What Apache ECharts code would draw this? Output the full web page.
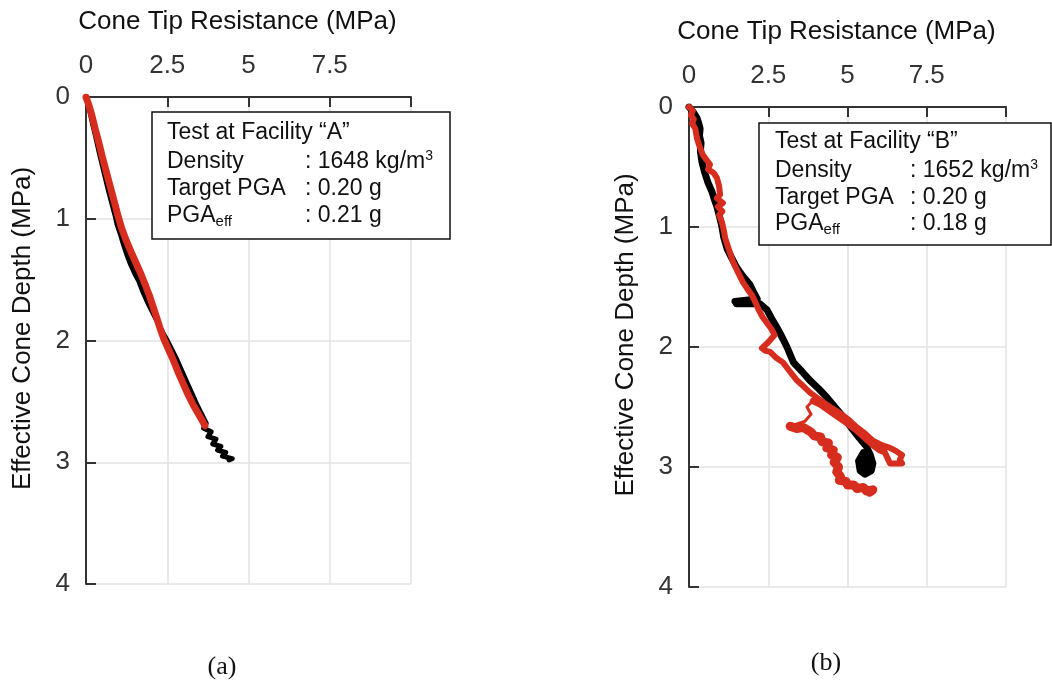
<!DOCTYPE html>
<html>
<head>
<meta charset="utf-8">
<script src="https://cdn.jsdelivr.net/npm/echarts@6/dist/echarts.min.js"></script>
<style>
html,body{margin:0;padding:0;background:#fff;}
#c{width:1052px;height:689px;}
</style>
</head>
<body>
<div id="c"></div>
<script>
// ---- data (q = cone tip resistance MPa, d = effective cone depth) ----
var xTicks = [0, 2.5, 5, 7.5];
var yTicks = [0, 1, 2, 3, 4];
var xTitle = 'Cone Tip Resistance (MPa)';
var yTitle = 'Effective Cone Depth (MPa)';

var aBlack = [[0,0],[0.05,0.05],[0.12,0.12],[0.2,0.22],[0.3,0.33],[0.4,0.45],[0.5,0.56],[0.6,0.67],[0.7,0.78],[0.8,0.88],[0.9,0.98],[0.95,1.04],[1.05,1.12],[1.15,1.21],[1.25,1.29],[1.38,1.38],[1.5,1.45],[1.62,1.51],[1.75,1.6],[1.9,1.69],[2.05,1.77],[2.2,1.85],[2.35,1.93],[2.5,2.0],[2.65,2.08],[2.8,2.16],[2.95,2.25],[3.1,2.34],[3.25,2.43],[3.4,2.52],[3.55,2.6],[3.7,2.68],[3.62,2.72],[3.85,2.75],[3.75,2.79],[4.0,2.81],[3.9,2.85],[4.15,2.87],[4.05,2.9],[4.3,2.92],[4.2,2.95],[4.5,2.97],[4.4,2.98]];
var aRed = [[0,0],[0.08,0.06],[0.18,0.15],[0.28,0.26],[0.4,0.38],[0.5,0.49],[0.62,0.61],[0.75,0.74],[0.87,0.86],[1.0,0.99],[1.1,1.08],[1.24,1.18],[1.4,1.28],[1.55,1.37],[1.7,1.46],[1.82,1.54],[1.95,1.63],[2.06,1.72],[2.16,1.8],[2.28,1.9],[2.4,1.99],[2.55,2.08],[2.7,2.17],[2.85,2.27],[3.0,2.36],[3.15,2.45],[3.3,2.53],[3.45,2.6],[3.58,2.66],[3.66,2.7]];

var bBlack = [[0,0],[0.13,0.04],[0.25,0.09],[0.3,0.13],[0.35,0.18],[0.33,0.24],[0.38,0.3],[0.36,0.37],[0.41,0.46],[0.5,0.55],[0.6,0.63],[0.73,0.71],[0.8,0.77],[0.88,0.83],[0.95,0.9],[1.04,1.0],[1.1,1.09],[1.2,1.18],[1.35,1.26],[1.51,1.34],[1.7,1.41],[1.92,1.48],[2.05,1.55],[2.15,1.6],[1.8,1.61],[1.45,1.62],[1.5,1.64],[1.9,1.64],[2.24,1.64],[2.46,1.69],[2.6,1.76],[2.78,1.84],[2.9,1.9],[3.09,2.0],[3.2,2.07],[3.3,2.13],[3.55,2.2],[3.82,2.28],[4.1,2.35],[4.35,2.42],[4.6,2.5],[4.86,2.58],[5.0,2.63],[5.17,2.69],[5.35,2.75],[5.6,2.83],[5.72,2.9],[5.8,2.97],[5.75,3.03],[5.55,3.06],[5.4,3.03],[5.35,2.95],[5.5,2.88],[5.65,2.95],[5.6,3.02],[5.5,2.97]];
var bRedUpper = [[0,0],[0.12,0.03],[0.06,0.07],[0.15,0.1],[0.1,0.14],[0.2,0.18],[0.25,0.26],[0.32,0.32],[0.44,0.4],[0.55,0.44],[0.66,0.48],[0.6,0.52],[0.78,0.55],[0.88,0.59],[0.95,0.66],[0.98,0.73],[0.88,0.76],[1.07,0.8],[0.91,0.83],[1.05,0.87],[0.95,0.9],[1.04,0.96],[1.1,1.03],[1.14,1.09],[1.25,1.18],[1.39,1.29],[1.55,1.38],[1.7,1.46],[1.85,1.52],[1.99,1.57],[2.1,1.63],[2.18,1.68],[2.32,1.75],[2.46,1.8],[2.6,1.85],[2.7,1.9],[2.5,1.96],[2.3,2.01],[2.4,2.03],[2.56,2.04],[2.75,2.09],[2.97,2.13],[3.2,2.21],[3.41,2.28],[3.62,2.33],[3.82,2.38],[4.13,2.44],[4.45,2.5],[4.76,2.55],[5.05,2.61],[5.3,2.67],[5.55,2.72],[5.8,2.78],[6.1,2.82],[6.34,2.84],[6.55,2.87],[6.72,2.9],[6.65,2.94],[6.72,2.97],[6.5,2.97],[6.34,2.97],[6.25,2.92],[6.18,2.88],[6.0,2.86],[5.8,2.82],[5.55,2.76],[5.3,2.7],[5.0,2.64],[4.67,2.58],[4.4,2.53],[4.13,2.48],[3.9,2.45]];
var bRedLink = [[3.9,2.45],[3.72,2.5],[3.85,2.56],[3.65,2.62],[3.19,2.66]];
var bRedLower = [[3.19,2.66],[3.4,2.68],[3.6,2.67],[3.85,2.71],[3.95,2.74],[4.15,2.75],[4.2,2.79],[4.4,2.8],[4.35,2.84],[4.55,2.86],[4.5,2.9],[4.68,2.92],[4.58,2.96],[4.72,3.0],[4.66,3.04],[4.78,3.08],[4.74,3.11],[4.95,3.12],[5.0,3.15],[5.2,3.15],[5.3,3.18],[5.5,3.17],[5.6,3.2],[5.8,3.19],[5.7,3.21]];

var boxA = ['Test at Facility \u201cA\u201d', 'Density', 'Target PGA', 'PGA', ': 1648 kg/m', ': 0.20 g', ': 0.21 g'];
var boxB = ['Test at Facility \u201cB\u201d', 'Density', 'Target PGA', 'PGA', ': 1652 kg/m', ': 0.20 g', ': 0.18 g'];

var RED = '#d62d1f';
var FONT = '"Liberation Sans", Arial, sans-serif';

function xAxisCfg(gi) {
  return {
    gridIndex: gi, type: 'value', position: 'top', min: 0, max: 10, interval: 2.5,
    name: xTitle, nameLocation: 'middle', nameGap: 62,
    nameTextStyle: {fontFamily: FONT, fontSize: 26, color: '#111', padding: [0, 22, 0, 0]},
    axisLine: {show: true, lineStyle: {color: '#333', width: 2}},
    axisTick: {show: true, inside: true, length: 10, lineStyle: {color: '#333', width: 2}},
    axisLabel: {fontFamily: FONT, fontSize: 26, color: '#333', margin: 18,
      formatter: function (v) { return xTicks.indexOf(v) >= 0 ? String(v) : ''; }},
    splitLine: {show: true, lineStyle: {color: '#e3e3e3', width: 1.5}}
  };
}
function yAxisCfg(gi) {
  return {
    gridIndex: gi, type: 'value', inverse: true, min: 0, max: 4, interval: 1,
    name: yTitle, nameLocation: 'middle', nameGap: 50,
    nameTextStyle: {fontFamily: FONT, fontSize: 26, color: '#111', padding: [0, 0, 0, 24]},
    axisLine: {show: true, lineStyle: {color: '#333', width: 2}},
    axisTick: {show: true, inside: true, length: 10, lineStyle: {color: '#333', width: 2}},
    axisLabel: {fontFamily: FONT, fontSize: 26, color: '#333', margin: 16,
      formatter: function (v) { return yTicks.indexOf(v) >= 0 ? String(v) : ''; }},
    splitLine: {show: true, lineStyle: {color: '#e3e3e3', width: 1.5}}
  };
}
function line(data, gi, color, w) {
  return {type: 'line', xAxisIndex: gi, yAxisIndex: gi, data: data, showSymbol: false,
    symbol: 'none', animation: false, silent: true, z: 3,
    lineStyle: {color: color, width: w, join: 'round', cap: 'round'}};
}
function legendBox(x, y, w, h, tx, vx, ys, t) {
  var Z = 1000;
  var ts = {fontFamily: FONT, fontSize: 23, fill: '#111', verticalAlign: 'middle'};
  var els = [{type: 'rect', z: Z, shape: {x: x, y: y, width: w, height: h},
    style: {fill: '#fff', stroke: '#111', lineWidth: 1.5}}];
  var rich = {
    m: {fontFamily: FONT, fontSize: 23, fill: '#111', lineHeight: 26, verticalAlign: 'middle'},
    sup: {fontFamily: FONT, fontSize: 14, fill: '#111', lineHeight: 26, verticalAlign: 'top', padding: [0, 0, 10, 0]},
    sub: {fontFamily: FONT, fontSize: 15, fill: '#111', lineHeight: 26, verticalAlign: 'bottom', padding: [10, 0, 0, 0]}
  };
  els.push({type: 'text', z: Z + 1, x: tx, y: ys[0], style: Object.assign({text: t[0]}, ts)});
  els.push({type: 'text', z: Z + 1, x: tx, y: ys[1], style: Object.assign({text: t[1]}, ts)});
  els.push({type: 'text', z: Z + 1, x: tx, y: ys[2], style: Object.assign({text: t[2]}, ts)});
  els.push({type: 'text', z: Z + 1, x: tx, y: ys[3], style: {text: '{m|' + t[3] + '}{sub|eff}', rich: rich, verticalAlign: 'middle'}});
  els.push({type: 'text', z: Z + 1, x: vx, y: ys[1], style: {text: '{m|' + t[4] + '}{sup|3}', rich: rich, verticalAlign: 'middle'}});
  els.push({type: 'text', z: Z + 1, x: vx, y: ys[2], style: Object.assign({text: t[5]}, ts)});
  els.push({type: 'text', z: Z + 1, x: vx, y: ys[3], style: Object.assign({text: t[6]}, ts)});
  return els;
}

var chart = echarts.init(document.getElementById('c'), null, {renderer: 'canvas'});
var graphics = [].concat(
  legendBox(152, 112, 298, 127, 167, 305, [133, 162, 189, 216], boxA),
  legendBox(759, 123, 292, 122, 775, 910, [142, 171, 198, 224], boxB),
  [
    {type: 'text', x: 222, y: 667, style: {text: '(a)', fontFamily: '"Liberation Serif", "Times New Roman", serif', fontSize: 26, fill: '#111', align: 'center', verticalAlign: 'middle'}},
    {type: 'text', x: 826, y: 663, style: {text: '(b)', fontFamily: '"Liberation Serif", "Times New Roman", serif', fontSize: 26, fill: '#111', align: 'center', verticalAlign: 'middle'}}
  ]
);
chart.setOption({
  backgroundColor: '#fff',
  animation: false,
  grid: [
    {left: 86, top: 97, width: 325, height: 487},
    {left: 689, top: 107, width: 317, height: 480}
  ],
  xAxis: [xAxisCfg(0), xAxisCfg(1)],
  yAxis: [yAxisCfg(0), yAxisCfg(1)],
  series: [
    line(aBlack, 0, '#000', 5),
    line(aRed, 0, RED, 7),
    line(bBlack, 1, '#000', 7),
    line(bRedUpper, 1, RED, 6),
    line(bRedLink, 1, RED, 3),
    line(bRedLower, 1, RED, 9)
  ],
  graphic: graphics
});
</script>
</body>
</html>
